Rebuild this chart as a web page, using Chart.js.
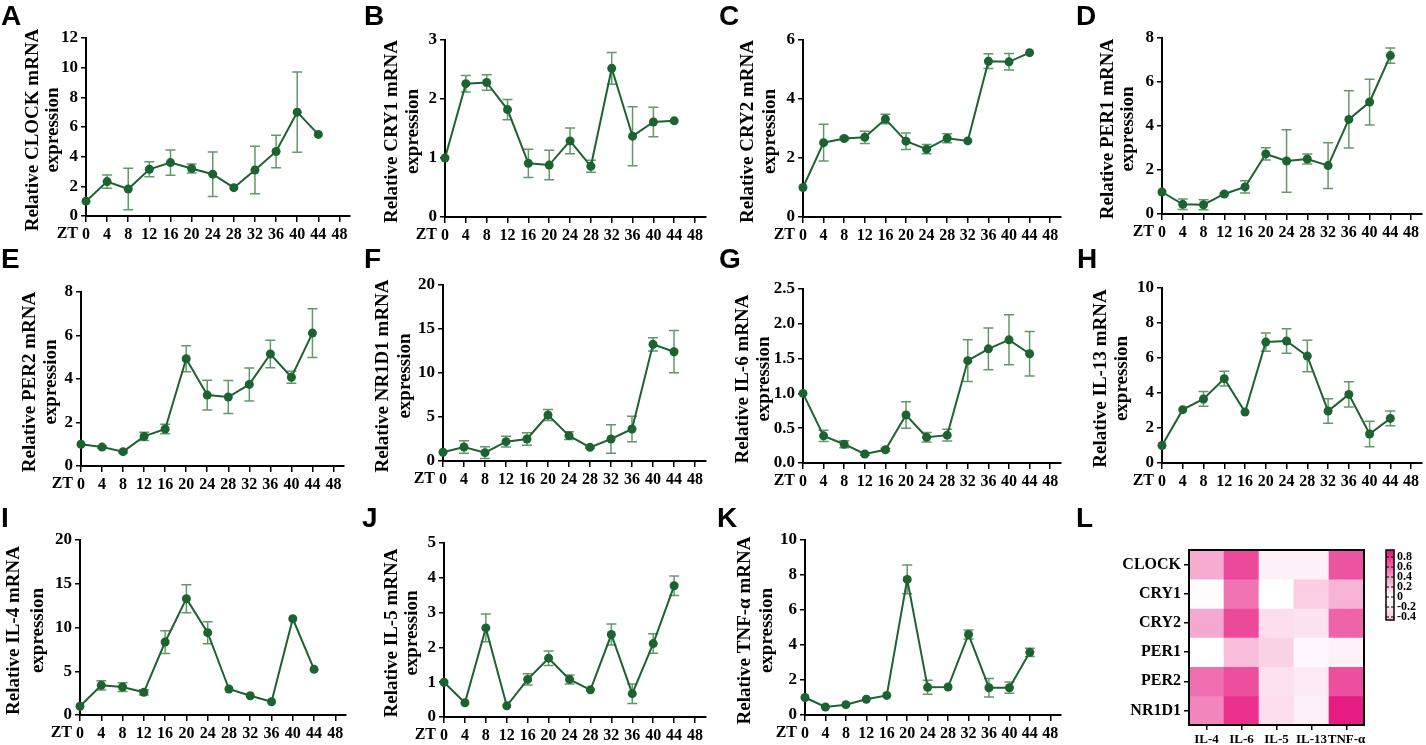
<!DOCTYPE html>
<html>
<head>
<meta charset="utf-8">
<script src="https://cdn.jsdelivr.net/npm/chart.js@4.4.0/dist/chart.umd.min.js"></script>
<style>
  html, body { margin: 0; padding: 0; background: #fff; }
  body { width: 1426px; height: 745px; position: relative; overflow: hidden; }
  canvas { position: absolute; }
</style>
</head>
<body>
<script>
// time points and axis ticks
const ZT = [0, 4, 8, 12, 16, 20, 24, 28, 32, 36, 40, 44];
const X_TICKS = [0, 4, 8, 12, 16, 20, 24, 28, 32, 36, 40, 44, 48];

// relative mRNA expression, mean and error
const CLOCK_MEAN = [1.0, 2.32, 1.82, 3.15, 3.6, 3.2, 2.82, 1.91, 3.1, 4.35, 7.0, 5.5];
const CLOCK_SD   = [0, 0.45, 1.4, 0.5, 0.85, 0.3, 1.5, 0, 1.6, 1.1, 2.7, 0];
const CRY1_MEAN  = [1.0, 2.26, 2.28, 1.82, 0.91, 0.88, 1.29, 0.86, 2.52, 1.37, 1.61, 1.63];
const CRY1_SD    = [0, 0.14, 0.13, 0.17, 0.24, 0.25, 0.22, 0.1, 0.27, 0.5, 0.25, 0];
const CRY2_MEAN  = [1.0, 2.52, 2.66, 2.7, 3.32, 2.57, 2.3, 2.67, 2.58, 5.28, 5.26, 5.57];
const CRY2_SD    = [0, 0.62, 0.05, 0.21, 0.16, 0.28, 0.16, 0.15, 0, 0.25, 0.28, 0];
const PER1_MEAN  = [1.0, 0.44, 0.42, 0.91, 1.23, 2.73, 2.41, 2.5, 2.2, 4.3, 5.09, 7.2];
const PER1_SD    = [0, 0.24, 0.23, 0.05, 0.28, 0.28, 1.42, 0.23, 1.04, 1.3, 1.04, 0.35];
const PER2_MEAN  = [1.0, 0.87, 0.66, 1.36, 1.7, 4.93, 3.26, 3.17, 3.75, 5.15, 4.08, 6.11];
const PER2_SD    = [0, 0.05, 0.05, 0.19, 0.22, 0.6, 0.68, 0.76, 0.76, 0.63, 0.28, 1.12];
const NR1D1_MEAN = [1.0, 1.59, 0.95, 2.2, 2.5, 5.23, 2.88, 1.55, 2.5, 3.64, 13.26, 12.42];
const NR1D1_SD   = [0, 0.7, 0.66, 0.6, 0.7, 0.62, 0.43, 0.1, 1.63, 1.44, 0.75, 2.4];
const IL6_MEAN   = [1.0, 0.39, 0.27, 0.13, 0.19, 0.69, 0.37, 0.4, 1.47, 1.64, 1.77, 1.57];
const IL6_SD     = [0, 0.08, 0.05, 0.02, 0.02, 0.19, 0.07, 0.085, 0.3, 0.3, 0.36, 0.32];
const IL13_MEAN  = [1.0, 3.05, 3.66, 4.82, 2.91, 6.91, 6.97, 6.11, 2.97, 3.92, 1.66, 2.55];
const IL13_SD    = [0, 0, 0.42, 0.42, 0, 0.52, 0.7, 0.9, 0.7, 0.72, 0.73, 0.42];
const IL4_MEAN   = [1.0, 3.39, 3.2, 2.59, 8.34, 13.3, 9.41, 2.97, 2.2, 1.52, 11.0, 5.22];
const IL4_SD     = [0, 0.53, 0.5, 0.3, 1.3, 1.6, 1.26, 0, 0, 0, 0, 0];
const IL5_MEAN   = [1.0, 0.41, 2.56, 0.32, 1.08, 1.69, 1.08, 0.78, 2.37, 0.67, 2.11, 3.77];
const IL5_SD     = [0, 0, 0.4, 0, 0.16, 0.21, 0.13, 0, 0.3, 0.28, 0.28, 0.28];
const TNF_MEAN   = [1.0, 0.46, 0.59, 0.9, 1.12, 7.75, 1.58, 1.6, 4.6, 1.56, 1.56, 3.58];
const TNF_SD     = [0, 0, 0, 0, 0, 0.82, 0.4, 0, 0.26, 0.53, 0.32, 0.24];

// correlation heatmap
const HEAT_ROWS = ['CLOCK', 'CRY1', 'CRY2', 'PER1', 'PER2', 'NR1D1'];
const HEAT_COLS = ['IL-4', 'IL-6', 'IL-5', 'IL-13', 'TNF-α'];
const HEAT_VALUES = [
  [0.33, 0.72, 0.06, 0.06, 0.68],
  [0.01, 0.55, 0.0, 0.2, 0.3],
  [0.34, 0.72, 0.13, 0.11, 0.62],
  [0.0, 0.26, 0.18, 0.03, 0.05],
  [0.57, 0.7, 0.12, 0.08, 0.7],
  [0.48, 0.82, 0.13, 0.06, 0.9]
];
const CBAR_TICKS = [0.8, 0.6, 0.4, 0.2, 0, -0.2, -0.4];

const LINE_COLOR = '#1c6330';
const ERR_COLOR = 'rgba(70,135,78,0.85)';
const SERIF = '"Liberation Serif", "Times New Roman", serif';
const SANS = '"Liberation Sans", Arial, sans-serif';

// box: canvas [left, top, w, h]; area: plot [left, top, right, bottom] in page px; tx: y-title line offsets
const PANELS = [
  { id: 'A', gene: 'CLOCK', mean: CLOCK_MEAN, sd: CLOCK_SD, yMax: 12, yStep: 2, box: [0, 0, 355, 245], area: [86, 38, 350, 216], tx: [-53, -33], lx: 1, ly: 25 },
  { id: 'B', gene: 'CRY1', mean: CRY1_MEAN, sd: CRY1_SD, yMax: 3, yStep: 1, box: [355, 0, 355, 245], area: [445, 40, 708, 217], tx: [-53, -32], lx: 9, ly: 25 },
  { id: 'C', gene: 'CRY2', mean: CRY2_MEAN, sd: CRY2_SD, yMax: 6, yStep: 2, box: [710, 0, 355, 245], area: [803, 40, 1065, 217], tx: [-55, -33], lx: 9, ly: 25 },
  { id: 'D', gene: 'PER1', mean: PER1_MEAN, sd: PER1_SD, yMax: 8, yStep: 2, box: [1065, 0, 361, 245], area: [1162, 38, 1424, 214], tx: [-54, -34], lx: 11, ly: 25 },
  { id: 'E', gene: 'PER2', mean: PER2_MEAN, sd: PER2_SD, yMax: 8, yStep: 2, box: [0, 245, 355, 250], area: [81, 292, 344, 466], tx: [-51, -30], lx: 1, ly: 23 },
  { id: 'F', gene: 'NR1D1', mean: NR1D1_MEAN, sd: NR1D1_SD, yMax: 20, yStep: 5, box: [355, 245, 355, 250], area: [443, 285, 706, 461], tx: [-60, -38], lx: 9, ly: 23 },
  { id: 'G', gene: 'IL-6', mean: IL6_MEAN, sd: IL6_SD, yMax: 2.5, yStep: 0.5, dec: 1, box: [710, 245, 355, 250], area: [803, 289, 1064, 463], tx: [-60, -39], lx: 9, ly: 23 },
  { id: 'H', gene: 'IL-13', mean: IL13_MEAN, sd: IL13_SD, yMax: 10, yStep: 2, box: [1065, 245, 361, 250], area: [1162, 288, 1423, 463], tx: [-61, -40], lx: 12, ly: 23 },
  { id: 'I', gene: 'IL-4', mean: IL4_MEAN, sd: IL4_SD, yMax: 20, yStep: 5, box: [0, 495, 355, 250], area: [80, 540, 346, 715], tx: [-66, -42], lx: 1, ly: 32 },
  { id: 'J', gene: 'IL-5', mean: IL5_MEAN, sd: IL5_SD, yMax: 5, yStep: 1, box: [355, 495, 355, 250], area: [444, 543, 706, 717], tx: [-52, -32], lx: 7, ly: 32 },
  { id: 'K', gene: 'TNF-α', mean: TNF_MEAN, sd: TNF_SD, yMax: 10, yStep: 2, box: [710, 495, 355, 250], area: [805, 540, 1068, 715], tx: [-60, -38], lx: 7, ly: 32 }
];
const HEAT_PANEL = { id: 'L', box: [1065, 495, 361, 250], area: [1189, 550, 1364, 725], lx: 11, ly: 32 };

function makeCanvas(box) {
  const c = document.createElement('canvas');
  c.width = box[2];
  c.height = box[3];
  c.style.left = box[0] + 'px';
  c.style.top = box[1] + 'px';
  c.style.width = box[2] + 'px';
  c.style.height = box[3] + 'px';
  document.body.appendChild(c);
  return c;
}

function drawLetter(ctx, p) {
  ctx.save();
  ctx.font = 'bold 28px ' + SANS;
  ctx.fillStyle = '#000';
  ctx.textAlign = 'left';
  ctx.textBaseline = 'alphabetic';
  ctx.fillText(p.id, p.lx, p.ly);
  ctx.restore();
}

function lineChart(p) {
  const [cl, ct, cw, ch] = p.box;
  const [L, T, R, B] = p.area;
  const yW = L - cl, xH = ct + ch - B;

  const decor = {
    id: 'decor',
    beforeDatasetsDraw(chart) {
      const ctx = chart.ctx, ys = chart.scales.y;
      const meta = chart.getDatasetMeta(0);
      ctx.save();
      ctx.strokeStyle = ERR_COLOR;
      ctx.lineWidth = 1.5;
      p.sd.forEach((e, i) => {
        if (!e) return;
        const x = meta.data[i].x;
        const y1 = ys.getPixelForValue(p.mean[i] + e);
        const y2 = ys.getPixelForValue(Math.max(p.mean[i] - e, 0));
        ctx.beginPath();
        ctx.moveTo(x, y1); ctx.lineTo(x, y2);
        ctx.moveTo(x - 5, y1); ctx.lineTo(x + 5, y1);
        ctx.moveTo(x - 5, y2); ctx.lineTo(x + 5, y2);
        ctx.stroke();
      });
      ctx.restore();
    },
    afterDraw(chart) {
      const ctx = chart.ctx, a = chart.chartArea;
      drawLetter(ctx, p);
      // y title, two lines
      ctx.save();
      ctx.font = 'bold 19px ' + SERIF;
      ctx.fillStyle = '#000';
      ctx.textAlign = 'center';
      ctx.textBaseline = 'middle';
      const cy = (a.top + a.bottom) / 2 + 3;
      [['Relative ' + p.gene + ' mRNA', p.tx[0]], ['expression', p.tx[1]]].forEach(([t, dx]) => {
        ctx.save();
        ctx.translate(a.left + dx, cy);
        ctx.rotate(-Math.PI / 2);
        ctx.fillText(t, 0, 0);
        ctx.restore();
      });
      // ZT label before the first tick
      ctx.font = 'bold 16px ' + SERIF;
      ctx.textAlign = 'right';
      ctx.fillText('ZT', chart.scales.x.getPixelForValue(0) - 8, a.bottom + 18);
      ctx.restore();
    }
  };

  new Chart(makeCanvas(p.box), {
    type: 'line',
    data: {
      datasets: [{
        data: ZT.map((z, i) => ({ x: z, y: p.mean[i] })),
        borderColor: LINE_COLOR,
        borderWidth: 2,
        backgroundColor: LINE_COLOR,
        pointBackgroundColor: LINE_COLOR,
        pointBorderWidth: 0,
        pointRadius: 4.5,
        tension: 0,
        clip: false
      }]
    },
    options: {
      responsive: false,
      animation: false,
      events: [],
      layout: { padding: { left: 0, top: T - ct, right: cl + cw - R, bottom: 0 } },
      plugins: { legend: { display: false }, tooltip: { enabled: false } },
      scales: {
        x: {
          type: 'linear',
          min: 0,
          max: 50,
          afterBuildTicks: s => { s.ticks = X_TICKS.map(v => ({ value: v })); },
          afterFit: s => { s.height = xH; },
          ticks: { autoSkip: false, maxRotation: 0, padding: 3, color: '#000', font: { family: SERIF, weight: 'bold', size: 16 } },
          grid: { drawOnChartArea: false, tickLength: 6, color: '#000', lineWidth: 1.5 },
          border: { display: true, color: '#000', width: 2 }
        },
        y: {
          type: 'linear',
          min: 0,
          max: p.yMax,
          afterFit: s => { s.width = yW; },
          ticks: {
            stepSize: p.yStep,
            autoSkip: false,
            padding: 3,
            color: '#000',
            font: { family: SERIF, weight: 'bold', size: 17 },
            callback: v => p.dec ? v.toFixed(p.dec) : String(v)
          },
          grid: { drawOnChartArea: false, tickLength: 5, color: '#000', lineWidth: 1.5 },
          border: { display: true, color: '#000', width: 2 }
        }
      }
    },
    plugins: [decor]
  });
}

function heatColor(v) {
  if (v >= 0) {
    const t = Math.min(1, v / 0.94);
    return `rgb(${Math.round(255 - 25 * t)},${Math.round(255 - 237 * t)},${Math.round(255 - 131 * t)})`;
  }
  const t = Math.min(1, -v / 0.46);
  return `rgb(${Math.round(255 - 8 * t)},${Math.round(255 - 58 * t)},${Math.round(255 - 35 * t)})`;
}

function heatmap(p) {
  const [cl, ct, cw, ch] = p.box;
  const [L, T, R, B] = p.area;
  const yW = L - cl, xH = ct + ch - B;

  const decor = {
    id: 'heatDecor',
    afterDraw(chart) {
      const ctx = chart.ctx, a = chart.chartArea;
      drawLetter(ctx, p);
      ctx.save();
      ctx.strokeStyle = '#000';
      ctx.lineWidth = 2;
      ctx.strokeRect(a.left, a.top, a.right - a.left, a.bottom - a.top);
      // colour bar
      const x0 = a.right + 22, w = 8, top = a.top, bot = a.top + 70;
      const vTop = 0.94, k = 50;
      const g = ctx.createLinearGradient(0, top, 0, bot);
      [0.94, 0.6, 0.3, 0, -0.46].forEach(v => g.addColorStop((vTop - v) * k / (bot - top), heatColor(v)));
      ctx.fillStyle = g;
      ctx.fillRect(x0, top, w, bot - top);
      ctx.lineWidth = 1.5;
      ctx.strokeRect(x0, top, w, bot - top);
      ctx.font = 'bold 12px ' + SERIF;
      ctx.fillStyle = '#000';
      ctx.textAlign = 'left';
      ctx.textBaseline = 'middle';
      ctx.lineWidth = 1;
      CBAR_TICKS.forEach(v => {
        const y = top + (vTop - v) * k;
        ctx.beginPath();
        ctx.moveTo(x0, y); ctx.lineTo(x0 + 3, y);
        ctx.moveTo(x0 + w - 3, y); ctx.lineTo(x0 + w, y);
        ctx.stroke();
        ctx.fillText(String(v), x0 + w + 3, y);
      });
      ctx.restore();
    }
  };

  new Chart(makeCanvas(p.box), {
    type: 'bar',
    data: {
      labels: HEAT_COLS,
      datasets: HEAT_ROWS.map((r, i) => ({
        label: r,
        data: HEAT_COLS.map(() => 1),
        backgroundColor: HEAT_VALUES[i].map(heatColor),
        borderWidth: 0,
        categoryPercentage: 1,
        barPercentage: 1
      }))
    },
    options: {
      responsive: false,
      animation: false,
      events: [],
      layout: { padding: { left: 0, top: T - ct, right: cl + cw - R, bottom: 0 } },
      plugins: { legend: { display: false }, tooltip: { enabled: false } },
      scales: {
        x: {
          stacked: true,
          afterFit: s => { s.height = xH; },
          ticks: { autoSkip: false, maxRotation: 0, padding: 2, color: '#000', font: { family: SERIF, weight: 'bold', size: 13 } },
          grid: { offset: false, drawOnChartArea: false, tickLength: 5, color: '#000', lineWidth: 1.5 },
          border: { display: false }
        },
        y: {
          stacked: true,
          min: 0,
          max: 6,
          reverse: true,
          afterBuildTicks: s => { s.ticks = HEAT_ROWS.map((r, i) => ({ value: i + 0.5 })); },
          afterFit: s => { s.width = yW; },
          ticks: { autoSkip: false, padding: 3, color: '#000', font: { family: SERIF, weight: 'bold', size: 16 },
                   callback: (v, i) => HEAT_ROWS[i] },
          grid: { drawOnChartArea: false, tickLength: 5, color: '#000', lineWidth: 1.5 },
          border: { display: false }
        }
      }
    },
    plugins: [decor]
  });
}

PANELS.forEach(lineChart);
heatmap(HEAT_PANEL);
</script>
</body>
</html>
